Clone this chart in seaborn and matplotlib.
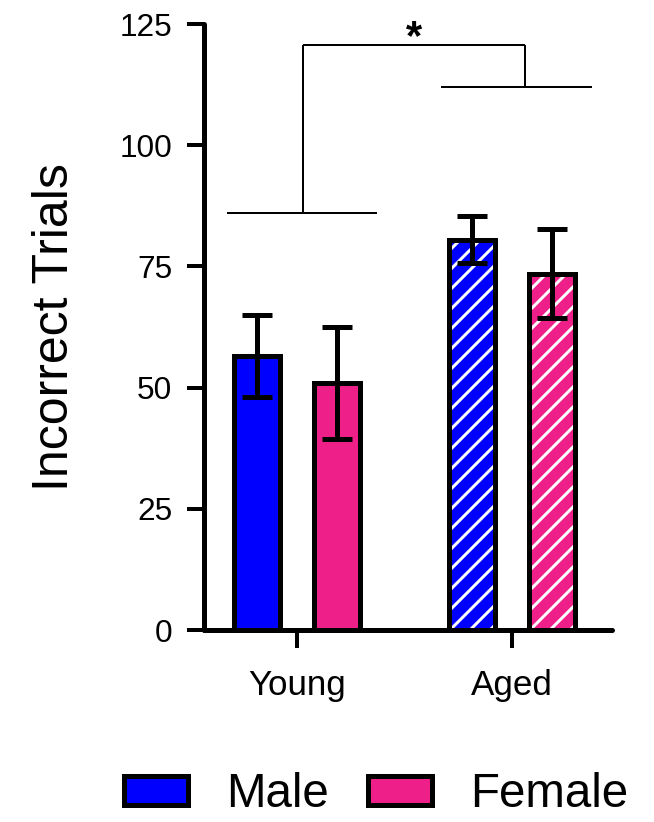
import matplotlib
matplotlib.use("Agg")
import matplotlib.pyplot as plt
from matplotlib.patches import Patch
import seaborn as sns
import pandas as pd
import numpy as np

# ---- data ----
ages = ["Young", "Aged"]
sexes = ["Male", "Female"]
mean_male = [56.5, 80.5]
mean_female = [51.0, 73.5]
sem_male = [8.5, 4.9]
sem_female = [11.6, 9.2]
sig_label = "*"
y_ticks = [0, 25, 50, 75, 100, 125]

colors = {"Male": "#0000FF", "Female": "#EF1F8A"}

df = pd.DataFrame({
    "Age": ages + ages,
    "Sex": ["Male"] * 2 + ["Female"] * 2,
    "Trials": mean_male + mean_female,
    "SEM": sem_male + sem_female,
})

sns.set_style("ticks")
plt.rcParams["font.family"] = ["Liberation Sans", "DejaVu Sans"]
plt.rcParams["hatch.linewidth"] = 1.8
for k in ["text.color", "axes.labelcolor", "xtick.color", "ytick.color",
          "xtick.labelcolor", "ytick.labelcolor"]:
    plt.rcParams[k] = "black"

DPI = 120
fig = plt.figure(figsize=(654 / DPI, 822 / DPI), dpi=DPI)
ax = fig.add_axes([204 / 654, 1 - 630 / 822, 408 / 654, 606 / 822])

sns.barplot(data=df, x="Age", y="Trials", hue="Sex", order=ages,
            hue_order=sexes, palette=colors, width=0.744, gap=0.417,
            errorbar=None, edgecolor="black", linewidth=3.0, ax=ax,
            legend=False, saturation=1)

# hatch on aged bars, error bars
for cont, sex in zip(ax.containers, sexes):
    sub = df[df["Sex"] == sex].set_index("Age").loc[ages]
    xs = []
    for bar, age in zip(cont, ages):
        xs.append(bar.get_x() + bar.get_width() / 2)
        if age == "Aged":
            bar.set_hatch("//")
            bar._hatch_color = (1, 1, 1, 1)
    ax.errorbar(xs, sub["Trials"].values, yerr=sub["SEM"].values, fmt="none",
                ecolor="black", elinewidth=3.0, capsize=9, capthick=3.0,
                zorder=5)

ax.set_ylim(0, 125)
ax.set_xlim(-0.4326, 1.465)
ax.set_yticks(y_ticks)
ax.set_yticklabels([str(t) for t in y_ticks])
ax.set_xlabel("")
ax.set_ylabel("Incorrect Trials", fontsize=30, labelpad=25, color="black")

for s in ["top", "right"]:
    ax.spines[s].set_visible(False)
for s in ["left", "bottom"]:
    ax.spines[s].set_linewidth(3.0)
    ax.spines[s].set_color("black")
    ax.spines[s].set_capstyle("round")

ax.tick_params(axis="y", length=10, width=2.4, labelsize=19, pad=9,
               colors="black", labelcolor="black")
ax.tick_params(axis="x", length=10.5, width=2.4, labelsize=21, pad=13,
               colors="black", labelcolor="black")

# significance brackets
bk = dict(color="black", lw=1.2, clip_on=False, solid_capstyle="butt")
young_y, aged_y, top_y = 86.0, 112.0, 120.7
ax.plot([-0.326, 0.372], [young_y, young_y], **bk)
ax.plot([0.67, 1.372], [aged_y, aged_y], **bk)
ax.plot([0.028, 0.028], [young_y, top_y], **bk)
ax.plot([1.06, 1.06], [aged_y, top_y], **bk)
ax.plot([0.028, 1.06], [top_y, top_y], **bk)
ax.text(0.542, 119.8, sig_label, ha="center", va="baseline", fontsize=25,
        fontweight="bold", clip_on=False, color="black")

handles = [Patch(facecolor=colors[s], edgecolor="black", linewidth=3.0, label=s)
           for s in sexes]
fig.legend(handles=handles, loc="center", bbox_to_anchor=(0.575, 0.033),
           ncol=2, frameon=False, fontsize=28.5, handlelength=1.35,
           handleheight=0.56, handletextpad=0.8, columnspacing=0.84,
           borderpad=0, borderaxespad=0, labelcolor="black")

fig.savefig("out.png", dpi=DPI)
